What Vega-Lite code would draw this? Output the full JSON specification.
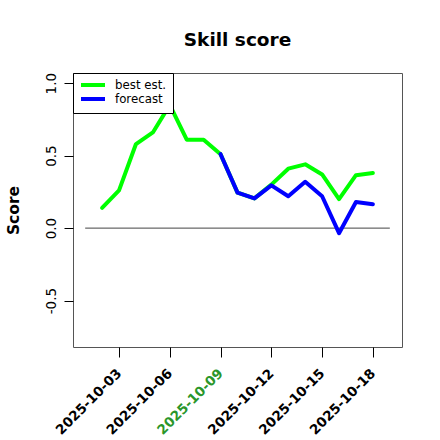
{
  "$schema": "https://vega.github.io/schema/vega-lite/v6.json",
  "width": 329,
  "height": 274,
  "autosize": {"type": "none"},
  "padding": {"left": 73, "top": 73, "right": 38, "bottom": 93},
  "title": {"text": "Skill score", "fontSize": 18.5, "fontWeight": "bold", "font": "DejaVu Sans", "anchor": "middle", "baseline": "alphabetic", "offset": 8, "color": "black"},
  "config": {
    "font": "DejaVu Sans",
    "view": {"stroke": "#555", "strokeWidth": 1},
    "axis": {"grid": false, "domain": false, "tickColor": "black", "labelColor": "black", "labelFont": "DejaVu Sans", "titleColor": "black"}
  },
  "datasets": {
    "scores": [
      {"date": "2025-10-02", "score": 0.14, "series": "best est."},
      {"date": "2025-10-03", "score": 0.26, "series": "best est."},
      {"date": "2025-10-04", "score": 0.58, "series": "best est."},
      {"date": "2025-10-05", "score": 0.66, "series": "best est."},
      {"date": "2025-10-06", "score": 0.85, "series": "best est."},
      {"date": "2025-10-07", "score": 0.61, "series": "best est."},
      {"date": "2025-10-08", "score": 0.61, "series": "best est."},
      {"date": "2025-10-09", "score": 0.51, "series": "best est."},
      {"date": "2025-10-10", "score": 0.245, "series": "best est."},
      {"date": "2025-10-11", "score": 0.205, "series": "best est."},
      {"date": "2025-10-12", "score": 0.30, "series": "best est."},
      {"date": "2025-10-13", "score": 0.41, "series": "best est."},
      {"date": "2025-10-14", "score": 0.44, "series": "best est."},
      {"date": "2025-10-15", "score": 0.37, "series": "best est."},
      {"date": "2025-10-16", "score": 0.20, "series": "best est."},
      {"date": "2025-10-17", "score": 0.365, "series": "best est."},
      {"date": "2025-10-18", "score": 0.38, "series": "best est."},
      {"date": "2025-10-09", "score": 0.51, "series": "forecast"},
      {"date": "2025-10-10", "score": 0.245, "series": "forecast"},
      {"date": "2025-10-11", "score": 0.205, "series": "forecast"},
      {"date": "2025-10-12", "score": 0.295, "series": "forecast"},
      {"date": "2025-10-13", "score": 0.22, "series": "forecast"},
      {"date": "2025-10-14", "score": 0.32, "series": "forecast"},
      {"date": "2025-10-15", "score": 0.22, "series": "forecast"},
      {"date": "2025-10-16", "score": -0.035, "series": "forecast"},
      {"date": "2025-10-17", "score": 0.18, "series": "forecast"},
      {"date": "2025-10-18", "score": 0.165, "series": "forecast"}
    ],
    "zero": [
      {"start": "2025-10-01", "end": "2025-10-19", "level": 0}
    ]
  },
  "layer": [
    {
      "data": {"name": "zero"},
      "mark": {"type": "rule", "color": "#444", "strokeWidth": 1},
      "encoding": {
        "x": {"field": "start", "type": "temporal", "title": null, "scale": {"type": "utc", "domain": [1759214592000, 1760894208000]}},
        "x2": {"field": "end"},
        "y": {"field": "level", "type": "quantitative", "title": "Score", "scale": {"domain": [-0.82, 1.07], "nice": false, "zero": false}}
      }
    },
    {
      "data": {"name": "scores"},
      "mark": {"type": "line", "strokeWidth": 4, "strokeCap": "round", "strokeJoin": "round"},
      "encoding": {
        "x": {
          "field": "date", "type": "temporal", "title": null,
          "scale": {"type": "utc", "domain": [1759214592000, 1760894208000]},
          "axis": {
            "values": [1759449600000, 1759708800000, 1759968000000, 1760227200000, 1760486400000, 1760745600000],
            "format": "%Y-%m-%d",
            "labelAngle": -45, "labelAlign": "right", "labelBaseline": "middle",
            "labelFontSize": 13.5, "labelFontWeight": "bold", "labelOverlap": false,
            "tickSize": 10, "labelPadding": 14,
            "labelColor": {"condition": {"test": "utcdate(datum.value) === 9", "value": "#2a962a"}, "value": "black"}
          }
        },
        "y": {
          "field": "score", "type": "quantitative", "title": "Score",
          "scale": {"domain": [-0.82, 1.07], "nice": false, "zero": false},
          "axis": {
            "values": [-0.5, 0, 0.5, 1],
            "labelExpr": "replace(format(datum.value, '.1f'), '\u2212', '-')",
            "labelAngle": -90, "labelAlign": "center", "labelBaseline": "alphabetic",
            "labelFontSize": 13.5, "tickSize": 9, "labelPadding": 9, "labelOverlap": false,
            "titleFontSize": 15.5, "titleFontWeight": "bold",
            "titleAngle": -90, "titleAlign": "center", "titleBaseline": "alphabetic",
            "titleX": -54.7, "titleY": 137
          }
        },
        "color": {
          "field": "series", "type": "nominal",
          "scale": {"domain": ["best est.", "forecast"], "range": ["#00FF00", "#0000FF"]},
          "legend": {
            "title": null, "orient": "top-left", "offset": 0,
            "fillColor": "white", "strokeColor": "black", "padding": 6, "cornerRadius": 0,
            "labelFontSize": 11.8, "labelFont": "DejaVu Sans", "labelColor": "black",
            "symbolType": "M-1,0H5", "symbolSize": 64, "symbolStrokeWidth": 4,
            "labelOffset": 24, "rowPadding": -2
          }
        }
      }
    }
  ]
}
